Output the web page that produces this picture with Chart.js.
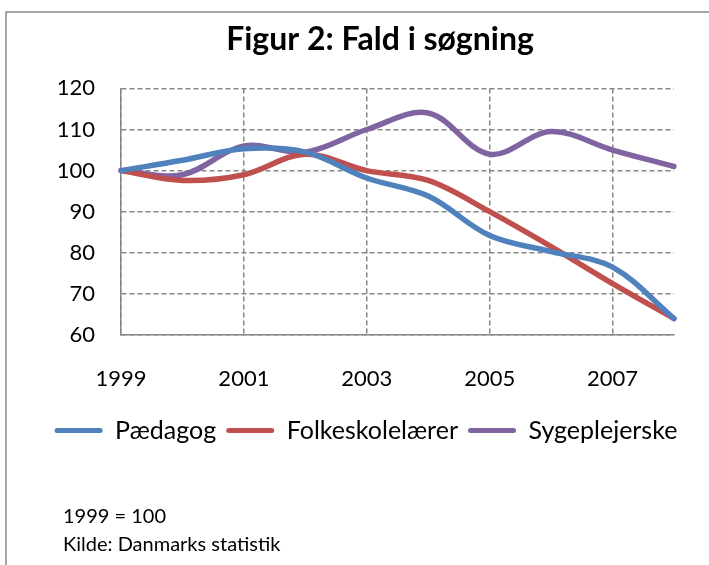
<!DOCTYPE html>
<html>
<head>
<meta charset="utf-8">
<script src="https://cdn.jsdelivr.net/npm/chart.js@4"></script>
<style>
  html, body { margin: 0; padding: 0; background: #fff; }
  #wrap { width: 709px; height: 565px; }
</style>
</head>
<body>
<div id="wrap"><canvas id="chart" width="709" height="565"></canvas></div>
<script>
// data (index, 1999 = 100)
var years = ['1999', '2000', '2001', '2002', '2003', '2004', '2005', '2006', '2007', '2008'];
var paedagog = [100, 102.5, 105.3, 104.5, 98.2, 93.8, 84.2, 80.3, 76.5, 64];
var folkeskolelaerer = [100, 97.6, 99, 104, 100, 97.6, 90, 81.5, 72.5, 64];
var sygeplejerske = [100, 99, 106, 104.5, 110, 114, 104, 109.5, 105, 101];
var yTicks = [60, 70, 80, 90, 100, 110, 120];

Chart.defaults.font.family = 'Lato';
Chart.defaults.color = '#000';

var gridGray = '#878787';

// left and top border of the chart frame + the footnote
var framePlugin = {
  id: 'frame',
  afterLayout: function(chart) {
    // the original frame is wider than the picture, so title and legend sit right of the plot centre
    if (chart.titleBlock) chart.titleBlock.left = 86;
    if (chart.legend) { chart.legend.left += 29; chart.legend.right += 29; }
  },
  afterDraw: function(chart) {
    var c = chart.ctx;
    c.save();
    c.strokeStyle = '#8a8a8a';
    c.lineWidth = 1.5;
    c.beginPath();
    c.moveTo(6, 565);
    c.lineTo(6, 12);
    c.lineTo(709, 12);
    c.stroke();
    c.fillStyle = '#000';
    c.font = '20px Lato';
    c.textBaseline = 'middle';
    c.fillText('1999 = 100', 63, 517);
    c.fillText('Kilde: Danmarks statistik', 63, 545);
    c.restore();
  }
};

function line(label, data, color) {
  return {
    label: label,
    data: data,
    borderColor: color,
    backgroundColor: color,
    borderWidth: 5.5,
    pointRadius: 0,
    tension: 0.35,
    borderCapStyle: 'round'
  };
}

var ctx = document.getElementById('chart');
var chart = new Chart(ctx, {
  type: 'line',
  data: {
    labels: years,
    datasets: [
      line('Pædagog', paedagog, '#4F81BD'),
      line('Folkeskolelærer', folkeskolelaerer, '#C0504D'),
      line('Sygeplejerske', sygeplejerske, '#8064A2')
    ]
  },
  options: {
    responsive: false,
    animation: false,
    layout: { padding: { left: 0, right: 35, top: 0, bottom: 112 } },
    plugins: {
      title: {
        display: true,
        text: 'Figur 2: Fald i søgning',
        font: { size: 32, weight: 'bold' },
        color: '#000',
        padding: { top: 20, bottom: 30 }
      },
      legend: {
        position: 'bottom',
        labels: {
          boxWidth: 48,
          boxHeight: 5,
          useBorderRadius: true,
          borderRadius: 2.5,
          padding: 10,
          font: { size: 25 },
          color: '#000',
          generateLabels: function(ch) {
            return Chart.defaults.plugins.legend.labels.generateLabels(ch).map(function(l) {
              l.lineWidth = 0;
              return l;
            });
          }
        }
      },
      tooltip: { enabled: false }
    },
    scales: {
      x: {
        type: 'category',
        offset: false,
        afterFit: function(s) { s.height = 73; },
        grid: {
          drawTicks: false,
          color: function(c) { return c.index % 2 === 0 ? gridGray : 'rgba(0,0,0,0)'; },
          lineWidth: 1.5
        },
        border: { color: gridGray, width: 1.5, dash: [5, 3] },
        ticks: {
          autoSkip: false,
          maxRotation: 0,
          padding: 31,
          font: { size: 22 },
          color: '#000',
          callback: function(v, i) { return i % 2 === 0 ? years[i] : ''; }
        }
      },
      y: {
        min: yTicks[0],
        max: yTicks[yTicks.length - 1],
        afterFit: function(s) { s.width = 121; },
        grid: { drawTicks: false, color: gridGray, lineWidth: 1.5 },
        border: { color: gridGray, width: 1.5, dash: [5, 3] },
        ticks: { stepSize: yTicks[1] - yTicks[0], padding: 26, font: { size: 22 }, color: '#000' }
      }
    }
  },
  plugins: [framePlugin]
});
</script>
</body>
</html>
